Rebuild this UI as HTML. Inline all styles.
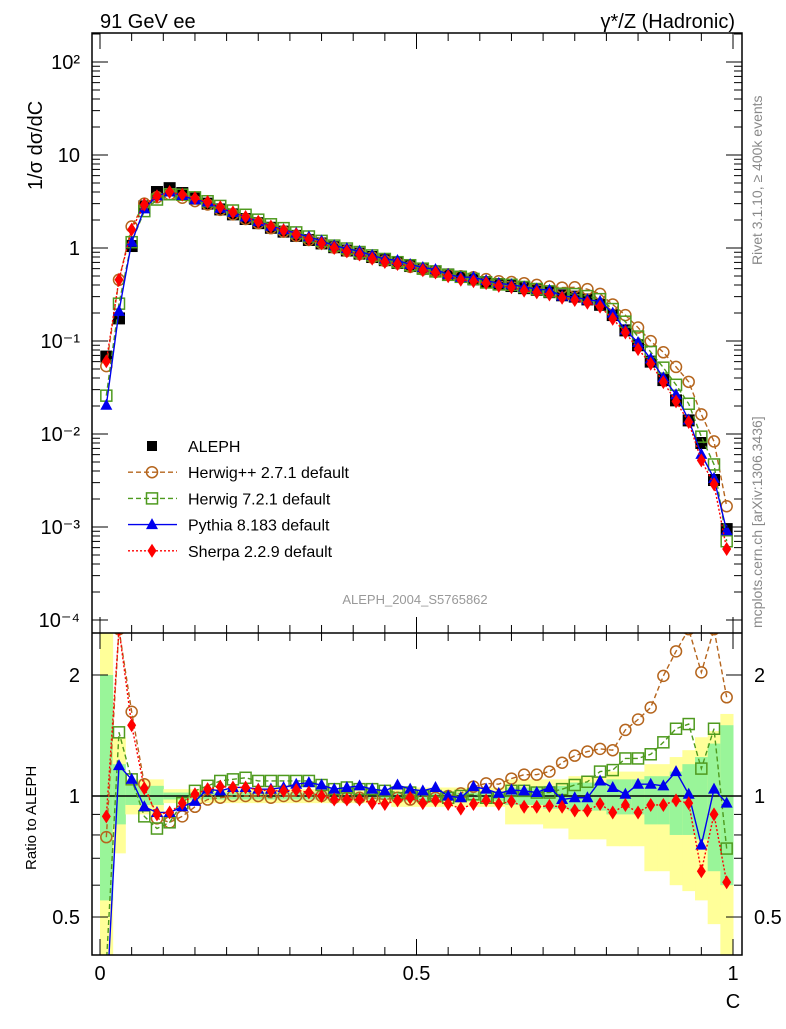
<!DOCTYPE html>
<html><head><meta charset="utf-8"><style>
body{margin:0;background:#fff;}
svg text{font-family:"Liberation Sans",sans-serif;}
</style></head><body>
<svg id="c" width="786" height="1024" xmlns="http://www.w3.org/2000/svg">
<defs>
<clipPath id="cm"><rect x="92" y="33" width="650" height="600"/></clipPath>
<clipPath id="cr"><rect x="92" y="633" width="650" height="322"/></clipPath>
</defs>
<g id="bands" clip-path="url(#cr)"></g>
<g id="main" clip-path="url(#cm)"></g>
<g id="ratio" clip-path="url(#cr)"></g>
<g id="axes"></g>
<text x="100" y="28" font-size="20">91 GeV ee</text>
<text x="735" y="28" font-size="20" text-anchor="end">γ*/Z (Hadronic)</text>
<text transform="translate(762,265) rotate(-90)" font-size="14" fill="#888">Rivet 3.1.10, ≥ 400k events</text>
<text transform="translate(762,628) rotate(-90)" font-size="14" fill="#888">mcplots.cern.ch [arXiv:1306.3436]</text>
<text transform="translate(42,190) rotate(-90)" font-size="20">1/σ  dσ/dC</text>
<text transform="translate(36,870) rotate(-90)" font-size="15">Ratio to ALEPH</text>
<text x="733" y="1008" font-size="20" text-anchor="middle">C</text>
<text x="415" y="604" font-size="13" fill="#999" text-anchor="middle">ALEPH_2004_S5765862</text>
<g id="legend"></g>
</svg>
<script>
const binCenters=[0.01,0.03,0.05,0.07,0.09,0.11,0.13,0.15,0.17,0.19,0.21,0.23,0.25,0.27,0.29,0.31,0.33,0.35,0.37,0.39,0.41,0.43,0.45,0.47,0.49,0.51,0.53,0.55,0.57,0.59,0.61,0.63,0.65,0.67,0.69,0.71,0.73,0.75,0.77,0.79,0.81,0.83,0.85,0.87,0.89,0.91,0.93,0.95,0.97,0.99];
const alephData=[0.068,0.175,1.05,2.8,4.0,4.4,3.9,3.4,3.0,2.6,2.3,2.05,1.85,1.65,1.5,1.35,1.22,1.12,1.02,0.94,0.87,0.8,0.74,0.69,0.64,0.6,0.56,0.52,0.49,0.46,0.43,0.41,0.39,0.37,0.355,0.335,0.31,0.30,0.28,0.245,0.19,0.13,0.09,0.06,0.038,0.023,0.014,0.008,0.0032,0.00095];
const herwigppRatio=[0.79,2.6,1.62,1.07,0.88,0.86,0.89,0.94,0.98,0.99,1.0,1.0,1.0,0.99,1.0,1.0,1.0,1.0,0.99,0.99,0.99,0.99,0.98,0.99,0.98,0.98,0.99,1.0,1.015,1.055,1.075,1.07,1.105,1.13,1.13,1.15,1.21,1.26,1.29,1.31,1.30,1.46,1.55,1.66,1.99,2.29,2.6,2.03,2.6,1.76];
const herwig7Ratio=[0.38,1.44,1.10,0.89,0.83,0.86,0.96,1.03,1.06,1.09,1.10,1.11,1.09,1.09,1.09,1.09,1.09,1.065,1.04,1.05,1.04,1.04,1.03,1.02,1.02,1.0,1.0,0.99,1.0,1.01,0.99,0.99,1.03,1.03,1.02,1.02,1.04,1.065,1.085,1.15,1.16,1.24,1.24,1.27,1.36,1.47,1.51,1.17,1.47,0.74];
const pythiaRatio=[0.3,1.19,1.10,0.94,0.91,0.91,0.94,0.97,1.04,1.03,1.05,1.05,1.04,1.04,1.05,1.07,1.08,1.065,1.04,1.05,1.06,1.04,1.03,1.065,1.04,1.03,1.05,1.0,0.99,1.055,1.04,1.015,1.035,1.03,1.02,1.05,0.98,0.99,0.99,1.09,1.05,1.01,1.07,1.07,1.06,1.15,1.01,0.755,1.04,0.96];
const sherpaRatio=[0.89,2.6,1.50,1.045,0.90,0.91,0.96,1.01,1.04,1.055,1.05,1.05,1.035,1.03,1.03,1.035,1.02,1.0,0.98,0.98,0.98,0.96,0.955,0.975,0.99,0.96,0.975,0.955,0.93,0.955,0.975,0.955,0.97,0.94,0.94,0.945,0.94,0.92,0.92,0.955,0.91,0.95,0.91,0.95,0.95,0.975,0.96,0.65,0.9,0.61];
const yellowLo=[0.3,0.72,0.9,0.9,0.9,0.96,0.96,0.96,0.96,0.96,0.96,0.96,0.96,0.96,0.96,0.96,0.96,0.96,0.96,0.96,0.96,0.96,0.96,0.94,0.94,0.94,0.94,0.94,0.94,0.94,0.94,0.94,0.85,0.85,0.85,0.83,0.83,0.78,0.78,0.78,0.75,0.75,0.75,0.65,0.65,0.6,0.58,0.55,0.48,0.33];
const yellowHi=[2.6,1.4,1.1,1.1,1.1,1.04,1.04,1.04,1.04,1.04,1.04,1.04,1.04,1.04,1.04,1.04,1.04,1.04,1.04,1.04,1.04,1.04,1.04,1.05,1.05,1.05,1.05,1.05,1.05,1.05,1.05,1.05,1.1,1.1,1.1,1.1,1.1,1.12,1.12,1.12,1.15,1.15,1.15,1.2,1.2,1.25,1.3,1.4,1.45,1.6];
const greenLo=[0.55,0.85,0.95,0.95,0.95,0.98,0.98,0.98,0.98,0.98,0.98,0.98,0.98,0.98,0.98,0.98,0.98,0.98,0.98,0.98,0.98,0.98,0.98,0.97,0.97,0.97,0.97,0.97,0.97,0.97,0.97,0.97,0.95,0.95,0.95,0.93,0.93,0.92,0.92,0.92,0.9,0.9,0.9,0.85,0.85,0.8,0.8,0.78,0.65,0.6];
const greenHi=[2.0,1.2,1.06,1.06,1.06,1.02,1.02,1.02,1.02,1.02,1.02,1.02,1.02,1.02,1.02,1.02,1.02,1.02,1.02,1.02,1.02,1.02,1.02,1.02,1.02,1.02,1.02,1.02,1.02,1.02,1.02,1.02,1.05,1.05,1.05,1.06,1.06,1.08,1.08,1.08,1.1,1.1,1.1,1.12,1.12,1.15,1.2,1.25,1.35,1.5];
const mainTickLabels=["10²","10","1","10⁻¹","10⁻²","10⁻³","10⁻⁴"];
const mainTickValues=[100,10,1,0.1,0.01,0.001,0.0001];
const ratioTickLabels=["2","1","0.5"];
const ratioTickValues=[2,1,0.5];
const xTickLabels=["0","0.5","1"];
const xTickValues=[0,0.5,1];

const NS="http://www.w3.org/2000/svg";
const X=c=>100+633*c;
const YM=v=>248-93*Math.log10(v);
const YR=r=>796-402*Math.log10(r);
function mk(tag,attrs,parent){const e=document.createElementNS(NS,tag);for(const k in attrs)e.setAttribute(k,attrs[k]);parent.appendChild(e);return e;}
const G=id=>document.getElementById(id);
const HW=633*0.01;

// bands
const bands=G('bands');
binCenters.forEach((c,i)=>{
  const y=mk('rect',{x:X(c)-HW,y:YR(yellowHi[i]),width:2*HW+0.5,height:YR(yellowLo[i])-YR(yellowHi[i]),fill:'#ffff99'},bands);
  
  
  const g=mk('rect',{x:X(c)-HW,y:YR(greenHi[i]),width:2*HW+0.5,height:YR(greenLo[i])-YR(greenHi[i]),fill:'#99f599'},bands);
  
  
});

const series=[
 {name:'herwigpp',ratio:herwigppRatio,color:'#b5651d',dash:'5,3',marker:'circle'},
 {name:'herwig7',ratio:herwig7Ratio,color:'#4e9a1e',dash:'5,3',marker:'square'},
 {name:'pythia',ratio:pythiaRatio,color:'#0000ee',dash:'',marker:'triangle'},
 {name:'sherpa',ratio:sherpaRatio,color:'#ff0000',dash:'2,2',marker:'diamond'}
];
function marker(type,x,y,color,parent){
  let e;
  if(type==='circle')e=mk('circle',{cx:x,cy:y,r:5.5,fill:'none',stroke:color,'stroke-width':1.5},parent);
  else if(type==='square')e=mk('rect',{x:x-5.5,y:y-5.5,width:11,height:11,fill:'none',stroke:color,'stroke-width':1.5},parent);
  else if(type==='triangle')e=mk('path',{d:`M${x},${y-6.5}L${x+6},${y+4.5}L${x-6},${y+4.5}Z`,fill:color},parent);
  else if(type==='diamond')e=mk('path',{d:`M${x},${y-7}L${x+4.5},${y}L${x},${y+7}L${x-4.5},${y}Z`,fill:color},parent);
  else e=mk('rect',{x:x-6,y:y-6,width:12,height:12,fill:color},parent);
  return e;
}
// ratio line at 1
const one=mk('line',{x1:92,x2:742,y1:YR(1),y2:YR(1),stroke:'#000','stroke-width':1.5},G('ratio'));



// data in main
binCenters.forEach((c,i)=>{
  const m=marker('sq',X(c),YM(alephData[i]),'#000',G('main'));
  
  
});
series.forEach(s=>{
  ['main','ratio'].forEach(p=>{
    const par=G(p);
    const vals=binCenters.map((c,i)=>p==='main'?alephData[i]*s.ratio[i]:s.ratio[i]);
    const yf=p==='main'?YM:YR;
    const pts=binCenters.map((c,i)=>X(c)+','+yf(vals[i])).join(' ');
    const l=mk('polyline',{points:pts,fill:'none',stroke:s.color,'stroke-width':1.4,'stroke-dasharray':s.dash},par);
    
    
    binCenters.forEach((c,i)=>{
      const m=marker(s.marker,X(c),yf(vals[i]),s.color,par);
      
      
    });
  });
});

// axes
const ax=G('axes');
mk('rect',{x:92,y:33,width:650,height:922,fill:'none',stroke:'#000','stroke-width':1.5},ax);
mk('line',{x1:92,x2:742,y1:633,y2:633,stroke:'#000','stroke-width':1.5},ax);
for(let d=-4;d<=2;d++){for(let k=1;k<10;k++){const v=k*Math.pow(10,d);const y=YM(v);if(y<33||y>633)continue;const L=k===1?16:8;
  mk('line',{x1:92,x2:92+L,y1:y,y2:y,stroke:'#000'},ax);mk('line',{x1:742-L,x2:742,y1:y,y2:y,stroke:'#000'},ax);}}
mainTickValues.forEach((v,i)=>{const t=mk('text',{x:80,y:YM(v)+7,'font-size':20,'text-anchor':'end'},ax);t.textContent=mainTickLabels[i];
  });
[0.4,0.5,0.6,0.7,0.8,0.9,1,2].forEach(v=>{const y=YR(v);if(y<633||y>955)return;const L=(v===1||v===2||v===0.5)?16:8;
  mk('line',{x1:92,x2:92+L,y1:y,y2:y,stroke:'#000'},ax);mk('line',{x1:742-L,x2:742,y1:y,y2:y,stroke:'#000'},ax);});
ratioTickValues.forEach((v,i)=>{[80,754].forEach(x=>{const t=mk('text',{x:x,y:YR(v)+7,'font-size':20,'text-anchor':x<100?'end':'start'},ax);t.textContent=ratioTickLabels[i];
  });});
for(let k=0;k<=20;k++){const c=k*0.05;const L=k%10===0?16:8;const x=X(c);
  mk('line',{x1:x,x2:x,y1:955,y2:955-L,stroke:'#000'},ax);mk('line',{x1:x,x2:x,y1:633,y2:633-L,stroke:'#000'},ax);
  mk('line',{x1:x,x2:x,y1:633,y2:633+L,stroke:'#000'},ax);mk('line',{x1:x,x2:x,y1:33,y2:33+L,stroke:'#000'},ax);}
xTickValues.forEach((v,i)=>{const t=mk('text',{x:X(v),y:980,'font-size':20,'text-anchor':'middle'},ax);t.textContent=xTickLabels[i];
  });

// legend
const lg=G('legend');
const entries=[['ALEPH','sq','#000',''],['Herwig++ 2.7.1 default','circle','#b5651d','5,3'],['Herwig 7.2.1 default','square','#4e9a1e','5,3'],['Pythia 8.183 default','triangle','#0000ee',''],['Sherpa 2.2.9 default','diamond','#ff0000','2,2']];
entries.forEach((e,i)=>{const y=446+i*26.2;
  const g=mk('g',{},lg);
  
  
  if(i>0)mk('line',{x1:128,x2:177,y1:y,y2:y,stroke:e[2],'stroke-width':1.4,'stroke-dasharray':e[3]},g);
  if(i===0)mk('rect',{x:147,y:y-5,width:10,height:10,fill:'#000'},g);else marker(e[1],152,y,e[2],g);
  const t=mk('text',{x:188,y:y+6,'font-size':16},g);t.textContent=e[0];});
</script>
</body></html>
